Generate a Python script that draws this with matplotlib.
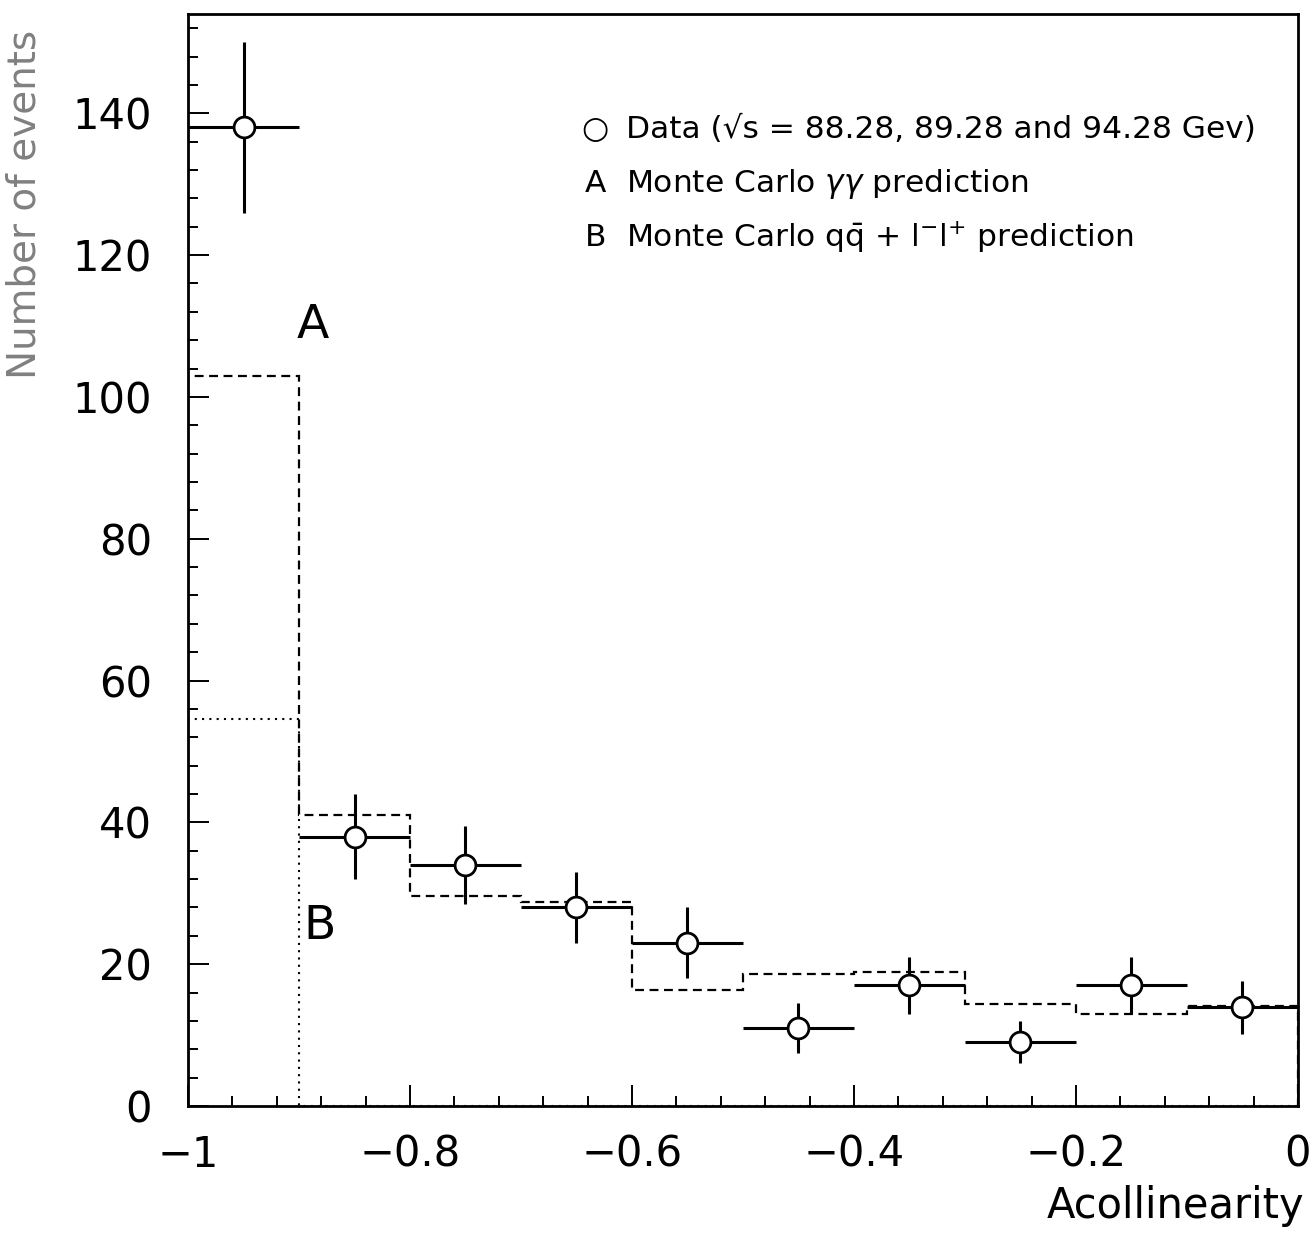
import numpy as np
import matplotlib
matplotlib.use("Agg")
import matplotlib.pyplot as plt
from matplotlib.ticker import MultipleLocator

# histogram binning in acollinearity
edges = np.round(np.arange(-1.0, 0.001, 0.1), 2)
centres = edges[:-1] + 0.05

# data points with (asymmetric) errors
data_counts = [138, 38, 34, 28, 23, 11, 17, 9, 17, 14]
err_up = [12, 6, 5.5, 5, 5, 3.5, 4, 3, 4, 3.6]
err_down = [12, 6, 5.5, 5, 5, 3.5, 4, 3, 4, 3.8]

# Monte Carlo predictions
mc_gg = [103, 41, 29.6, 28.7, 16.3, 18.6, 18.9, 14.4, 13, 14.1]   # A
mc_qq = [54.6, 0, 0, 0, 0, 0, 0, 0, 0, 0]                          # B

legend_lines = [
    ("\u25cb", "Data (\u221as = 88.28, 89.28 and 94.28 Gev)"),
    ("A", r"Monte Carlo $\gamma\gamma$ prediction"),
    ("B", r"Monte Carlo q$\bar{\mathrm{q}}$ + l$^{-}$l$^{+}$ prediction"),
]

plt.rcParams["font.family"] = ["DejaVu Sans"]
plt.rcParams["mathtext.fontset"] = "dejavusans"

fig = plt.figure(figsize=(13.12, 12.36), dpi=100)
ax = fig.add_axes([0.1433, 0.1052, 0.846, 0.8835])

ax.stairs(mc_gg, edges, color="black", linestyle=(0, (4, 2.5)), linewidth=1.6)
ax.stairs(mc_qq, edges, color="black", linestyle=(0, (1, 2.5)), linewidth=1.5)
ax.errorbar(centres, data_counts, xerr=0.05, yerr=[err_down, err_up],
            fmt="o", color="black", mfc="white", mec="black", ms=15,
            mew=2, elinewidth=2.2, capsize=0, zorder=5)

ax.text(-0.888, 110, "A", fontsize=34, ha="center", va="center")
ax.text(-0.896, 25.3, "B", fontsize=34, ha="left", va="center")

for i, (key, txt) in enumerate(legend_lines):
    y = 0.894 - i * 0.0495
    ax.text(0.367, y, key, transform=ax.transAxes, fontsize=22.5,
            ha="center", va="center")
    ax.text(0.395, y, txt, transform=ax.transAxes, fontsize=22.5,
            ha="left", va="center")

ax.set_xlim(-1, 0)
ax.set_ylim(0, 154)
ax.xaxis.set_major_locator(MultipleLocator(0.2))
ax.xaxis.set_minor_locator(MultipleLocator(0.04))
ax.yaxis.set_major_locator(MultipleLocator(20))
ax.yaxis.set_minor_locator(MultipleLocator(4))
ax.set_xticks([-1, -0.8, -0.6, -0.4, -0.2, 0])
ax.set_xticklabels(["\u22121", "\u22120.8", "\u22120.6", "\u22120.4", "\u22120.2", "0"])

ax.tick_params(which="both", direction="in", top=False, right=False,
               width=1.4, labelsize=30)
ax.tick_params(which="major", length=15)
ax.tick_params(which="minor", length=7.5)
ax.tick_params(axis="x", pad=20)
ax.tick_params(axis="y", pad=26)
for s in ax.spines.values():
    s.set_linewidth(2)

ax.set_ylabel("Number of events", fontsize=28, color="#808080", loc="top")
ax.yaxis.set_label_coords(-0.13, 0.985)
ax.set_xlabel("Acollinearity", fontsize=30, loc="right")
ax.xaxis.set_label_coords(1.006, -0.072)

fig.savefig("out.png", dpi=100)
